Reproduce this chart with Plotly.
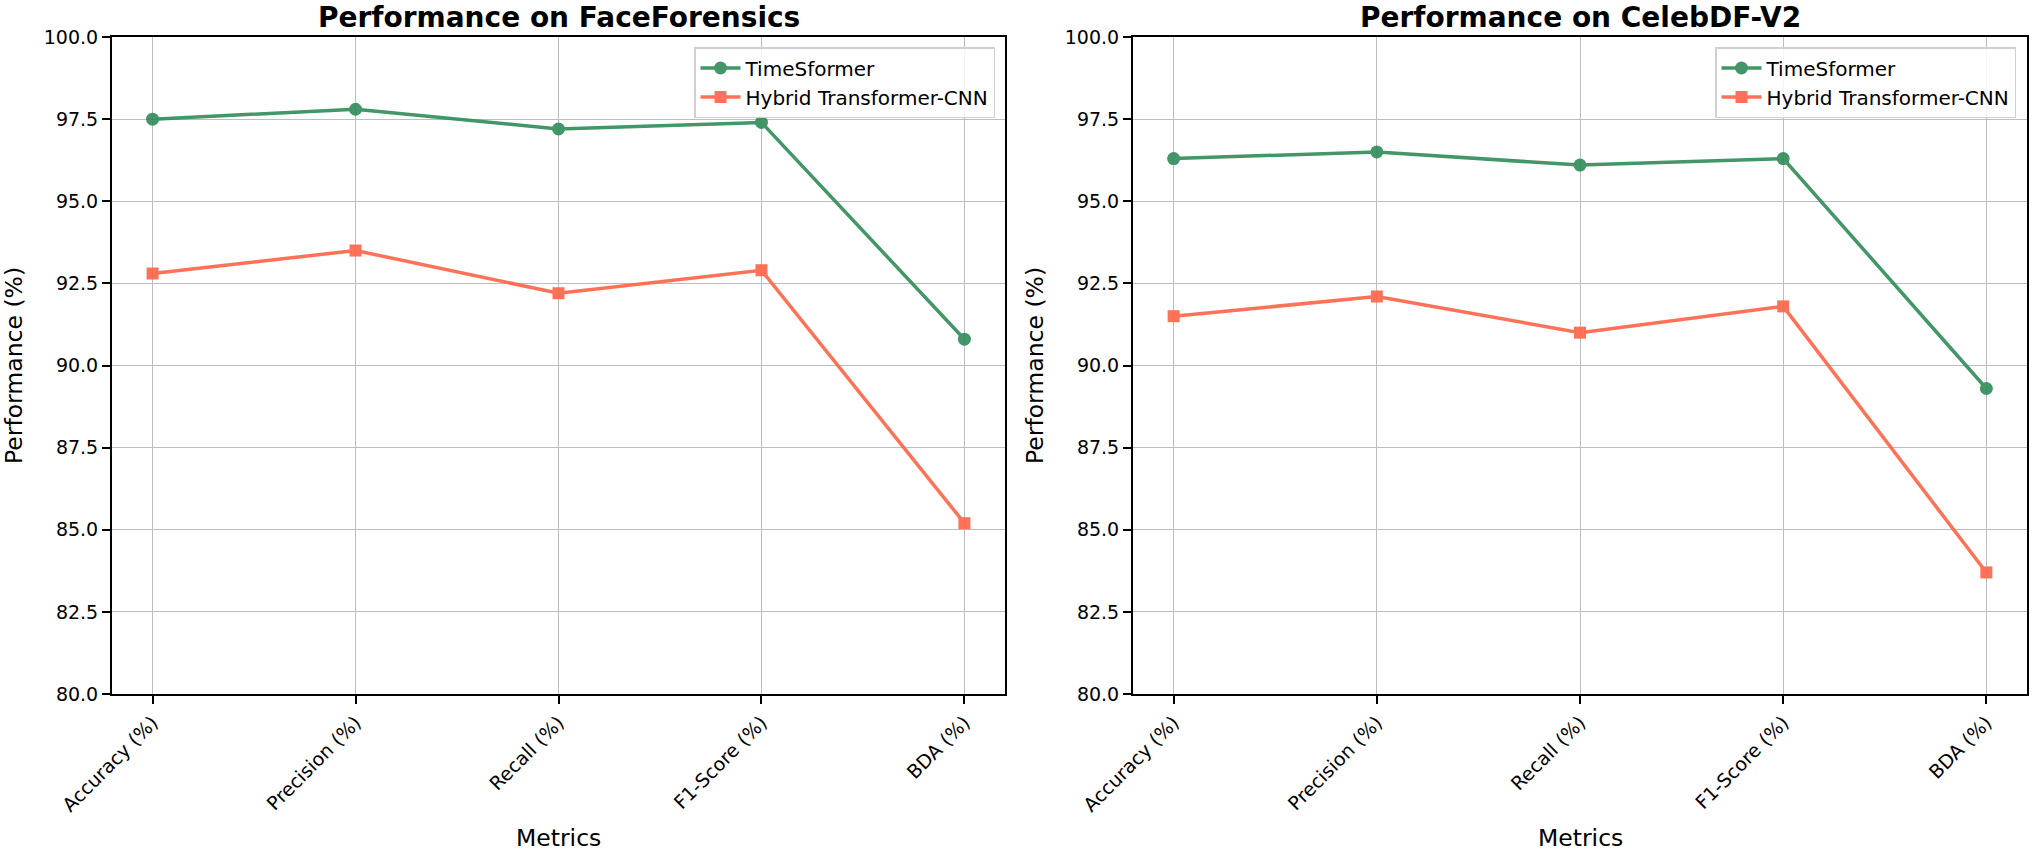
import plotly.graph_objects as go
from plotly.subplots import make_subplots

metrics = ["Accuracy (%)", "Precision (%)", "Recall (%)", "F1-Score (%)", "BDA (%)"]
ff_timesformer = [97.5, 97.8, 97.2, 97.4, 90.8]
ff_hybrid = [92.8, 93.5, 92.2, 92.9, 85.2]
cd_timesformer = [96.3, 96.5, 96.1, 96.3, 89.3]
cd_hybrid = [91.5, 92.1, 91.0, 91.8, 83.7]
titles = ["Performance on FaceForensics", "Performance on CelebDF-V2"]
y_ticks = [80.0, 82.5, 85.0, 87.5, 90.0, 92.5, 95.0, 97.5, 100.0]

GREEN = "#2e8b57"
ORANGE = "#ff6347"
FONT = "DejaVu Sans"
W, H = 2032, 854

fig = make_subplots(rows=1, cols=2)

xpos = list(range(len(metrics)))
panels = [(ff_timesformer, ff_hybrid, "legend"), (cd_timesformer, cd_hybrid, "legend2")]
for i, (ts, hy, lg) in enumerate(panels, start=1):
    fig.add_trace(go.Scatter(x=xpos, y=ts, mode="lines+markers", name="TimeSformer",
                             line=dict(color=GREEN, width=3.5),
                             marker=dict(symbol="circle", size=13, color=GREEN),
                             opacity=0.9, legend=lg), row=1, col=i)
    fig.add_trace(go.Scatter(x=xpos, y=hy, mode="lines+markers", name="Hybrid Transformer-CNN",
                             line=dict(color=ORANGE, width=3.5),
                             marker=dict(symbol="square", size=12, color=ORANGE),
                             opacity=0.9, legend=lg), row=1, col=i)

def px_x(p):
    return p / W

def px_y(p):
    return 1 - p / H

dom_y = [px_y(694), px_y(37)]
doms_x = [[px_x(112), px_x(1005)], [px_x(1133), px_x(2027)]]

axis_common = dict(showline=True, linecolor="black", linewidth=2, mirror=True,
                   showgrid=True, gridcolor="#bdbdbd", gridwidth=1.4,
                   ticks="outside", ticklen=8, tickwidth=2, tickcolor="black",
                   zeroline=False, automargin=False,
                   tickfont=dict(family=FONT, size=19, color="black"))

for i in (1, 2):
    xa = "xaxis" if i == 1 else "xaxis2"
    ya = "yaxis" if i == 1 else "yaxis2"
    fig.layout[xa].update(domain=doms_x[i - 1], range=[-0.2, 4.2], tickmode="array",
                          tickvals=xpos, ticktext=metrics, tickangle=-45, **axis_common)
    fig.layout[ya].update(domain=dom_y, range=[80, 100], tickmode="array",
                          tickvals=y_ticks, ticktext=[f"{v:.1f}" for v in y_ticks],
                          **axis_common)

annotations = []
title_cx = [(112 + 1005) / 2, (1133 + 2027) / 2]
ytitle_x = [14, 1035]
for i in range(2):
    annotations.append(dict(text=f"<b>{titles[i]}</b>", x=px_x(title_cx[i]), y=px_y(17),
                            xref="paper", yref="paper", showarrow=False,
                            xanchor="center", yanchor="middle",
                            font=dict(family=FONT, size=28, color="black")))
    annotations.append(dict(text="Metrics", x=px_x(title_cx[i]), y=px_y(838),
                            xref="paper", yref="paper", showarrow=False,
                            xanchor="center", yanchor="middle",
                            font=dict(family=FONT, size=23.5, color="black")))
    annotations.append(dict(text="Performance (%)", x=px_x(ytitle_x[i]), y=px_y(366),
                            xref="paper", yref="paper", showarrow=False, textangle=-90,
                            xanchor="center", yanchor="middle",
                            font=dict(family=FONT, size=23.5, color="black")))

legend_style = dict(xanchor="right", yanchor="top", bgcolor="rgba(255,255,255,0.85)",
                    bordercolor="#d0d0d0", borderwidth=1.5,
                    font=dict(family=FONT, size=20, color="black"),
                    tracegroupgap=2, itemwidth=40)

fig.update_layout(
    width=W, height=H,
    margin=dict(l=0, r=0, t=0, b=0),
    paper_bgcolor="white", plot_bgcolor="white",
    showlegend=True,
    annotations=annotations,
    legend=dict(x=px_x(995), y=px_y(47), **legend_style),
    legend2=dict(x=px_x(2016), y=px_y(47), **legend_style),
    font=dict(family=FONT),
)

fig.write_html("out.html", config={"displayModeBar": False},
               post_script="document.body.style.margin='0px';document.body.style.overflow='hidden';")
